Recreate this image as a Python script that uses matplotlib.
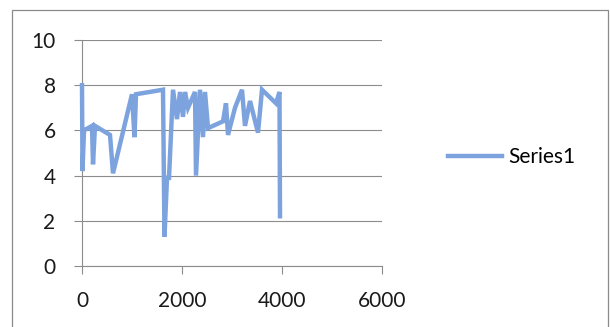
import matplotlib
matplotlib.use("Agg")
from matplotlib import pyplot as plt
from matplotlib.patches import Rectangle

# values
x_vals = [0, 10, 40, 200, 220, 260, 560, 620, 1000, 1050, 1080, 1620, 1650,
          1700, 1740, 1820, 1900, 1960, 2020, 2060, 2120, 2260, 2280, 2360,
          2420, 2460, 2520, 2820, 2880, 2920, 3060, 3200, 3260, 3360, 3520,
          3600, 3880, 3950, 3960]
y_vals = [8.0, 4.2, 6.0, 6.2, 4.5, 6.2, 5.8, 4.1, 7.6, 5.7, 7.6, 7.8, 1.3,
          3.9, 3.9, 7.8, 6.5, 7.7, 6.6, 7.7, 7.0, 7.7, 4.0, 7.8,
          5.7, 7.7, 6.1, 6.4, 7.2, 5.8, 7.0, 7.8, 6.2, 7.3, 5.9,
          7.8, 7.2, 7.7, 2.2]
x_ticks = [0, 2000, 4000, 6000]
y_ticks = [0, 2, 4, 6, 8, 10]
series_name = "Series1"

plt.rcParams['font.family'] = ['Lato', 'DejaVu Sans']

fig = plt.figure(figsize=(6.1, 3.27), dpi=100)
ax = fig.add_axes([82 / 610, 61 / 327, 300 / 610, 226 / 327])

# outer chart frame
fig.patches.append(Rectangle((12 / 610, -0.02), 596 / 610, 1.02 - 10 / 327,
                             transform=fig.transFigure, fill=False,
                             edgecolor='#8a8a8a', linewidth=0.9))

ax.plot(x_vals, y_vals, color='#7DA3DF', linewidth=3.2, label=series_name,
        solid_joinstyle='miter', clip_on=False, zorder=5)

ax.set_xlim(0, 6000)
ax.set_ylim(0, 10)
ax.set_xticks(x_ticks)
ax.set_yticks(y_ticks)

ax.grid(True, axis='y', color='#8c8c8c', linewidth=0.8)
ax.set_axisbelow(True)
for side in ['top', 'right']:
    ax.spines[side].set_visible(False)
for side in ['left', 'bottom']:
    ax.spines[side].set_color('#8c8c8c')
    ax.spines[side].set_linewidth(0.8)

ax.tick_params(axis='both', colors='#8c8c8c', labelcolor='#1a1a1a',
               labelsize=15, length=6, width=0.8, direction='out')
ax.tick_params(axis='y', pad=13)
ax.tick_params(axis='x', pad=12)

leg = ax.legend(loc='center left', bbox_to_anchor=(448 / 610, 170 / 327),
                bbox_transform=fig.transFigure, frameon=False, fontsize=15,
                handlelength=2.6, handletextpad=0.3, borderaxespad=0,
                borderpad=0)

fig.savefig("out.png", dpi=100)
